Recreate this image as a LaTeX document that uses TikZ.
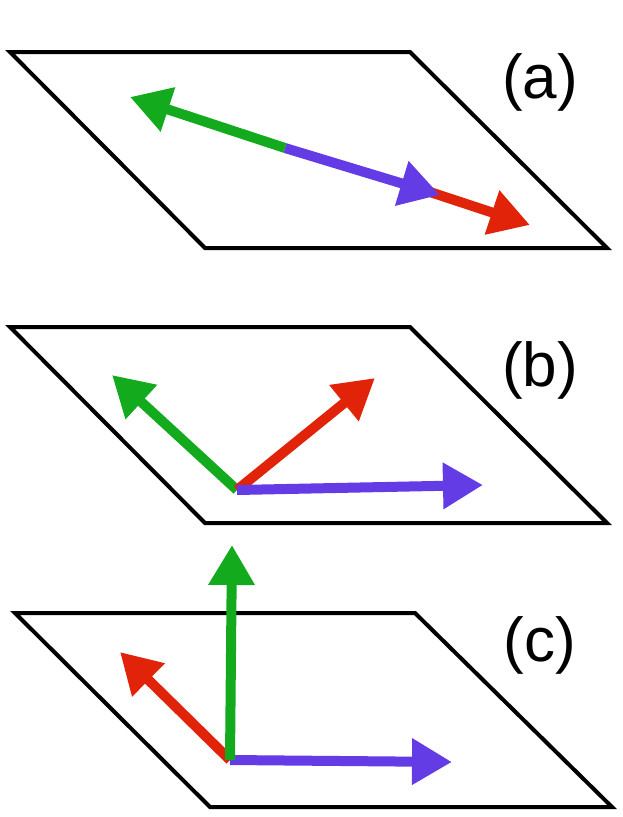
\documentclass[tikz,border=0pt]{standalone}
\usepackage{fontspec}
\setmainfont{Liberation Sans}
\usetikzlibrary{arrows.meta}
\definecolor{cg}{RGB}{20,170,30}
\definecolor{cp}{RGB}{100,60,230}
\definecolor{cr}{RGB}{225,35,10}
\begin{document}
\begin{tikzpicture}[x=1pt,y=-1pt,
  plane/.style={draw=black,line width=4pt,line join=miter},
  vec/.style={line width=10pt,-{Triangle[length=40pt,width=44pt]}},
  lab/.style={font=\fontsize{62}{70}\selectfont,inner sep=0pt}]
\useasboundingbox (0,0) rectangle (623,817);
% (a)
\draw[plane] (10,52) -- (410,52) -- (607,248) -- (205,248) -- cycle;
\node[lab] (la) at (540,82) {(a)};
\coordinate (oa) at (285,148);
\coordinate (ra) at (430,192);
\coordinate (ta1) at (130,97);
\coordinate (ta2) at (440,195);
\coordinate (ta3) at (530,225);
\draw[vec,cr] (ra) -- (ta3);
\draw[vec,cp] (oa) -- (ta2);
\draw[vec,cg] (oa) -- (ta1);
% (b)
\draw[plane] (10,327) -- (410,327) -- (607,523) -- (205,523) -- cycle;
\node[lab] (lb) at (540,370) {(b)};
\coordinate (ob) at (237,490);
\coordinate (tb1) at (112,375);
\coordinate (tb2) at (375,378);
\coordinate (tb3) at (483,485);
\draw[vec,cg] (ob) -- (tb1);
\draw[vec,cr] (ob) -- (tb2);
\draw[vec,cp] (ob) -- (tb3);
% (c)
\draw[plane] (15,613) -- (415,613) -- (612,807) -- (210,807) -- cycle;
\node[lab] (lc) at (540,645) {(c)};
\coordinate (oc) at (230,760);
\coordinate (tc1) at (232,545);
\coordinate (tc2) at (120,652);
\coordinate (tc3) at (452,762);
\draw[vec,cr] (oc) -- (tc2);
\draw[vec,cp] (oc) -- (tc3);
\draw[vec,cg] (oc) -- (tc1);
\end{tikzpicture}
\end{document}
